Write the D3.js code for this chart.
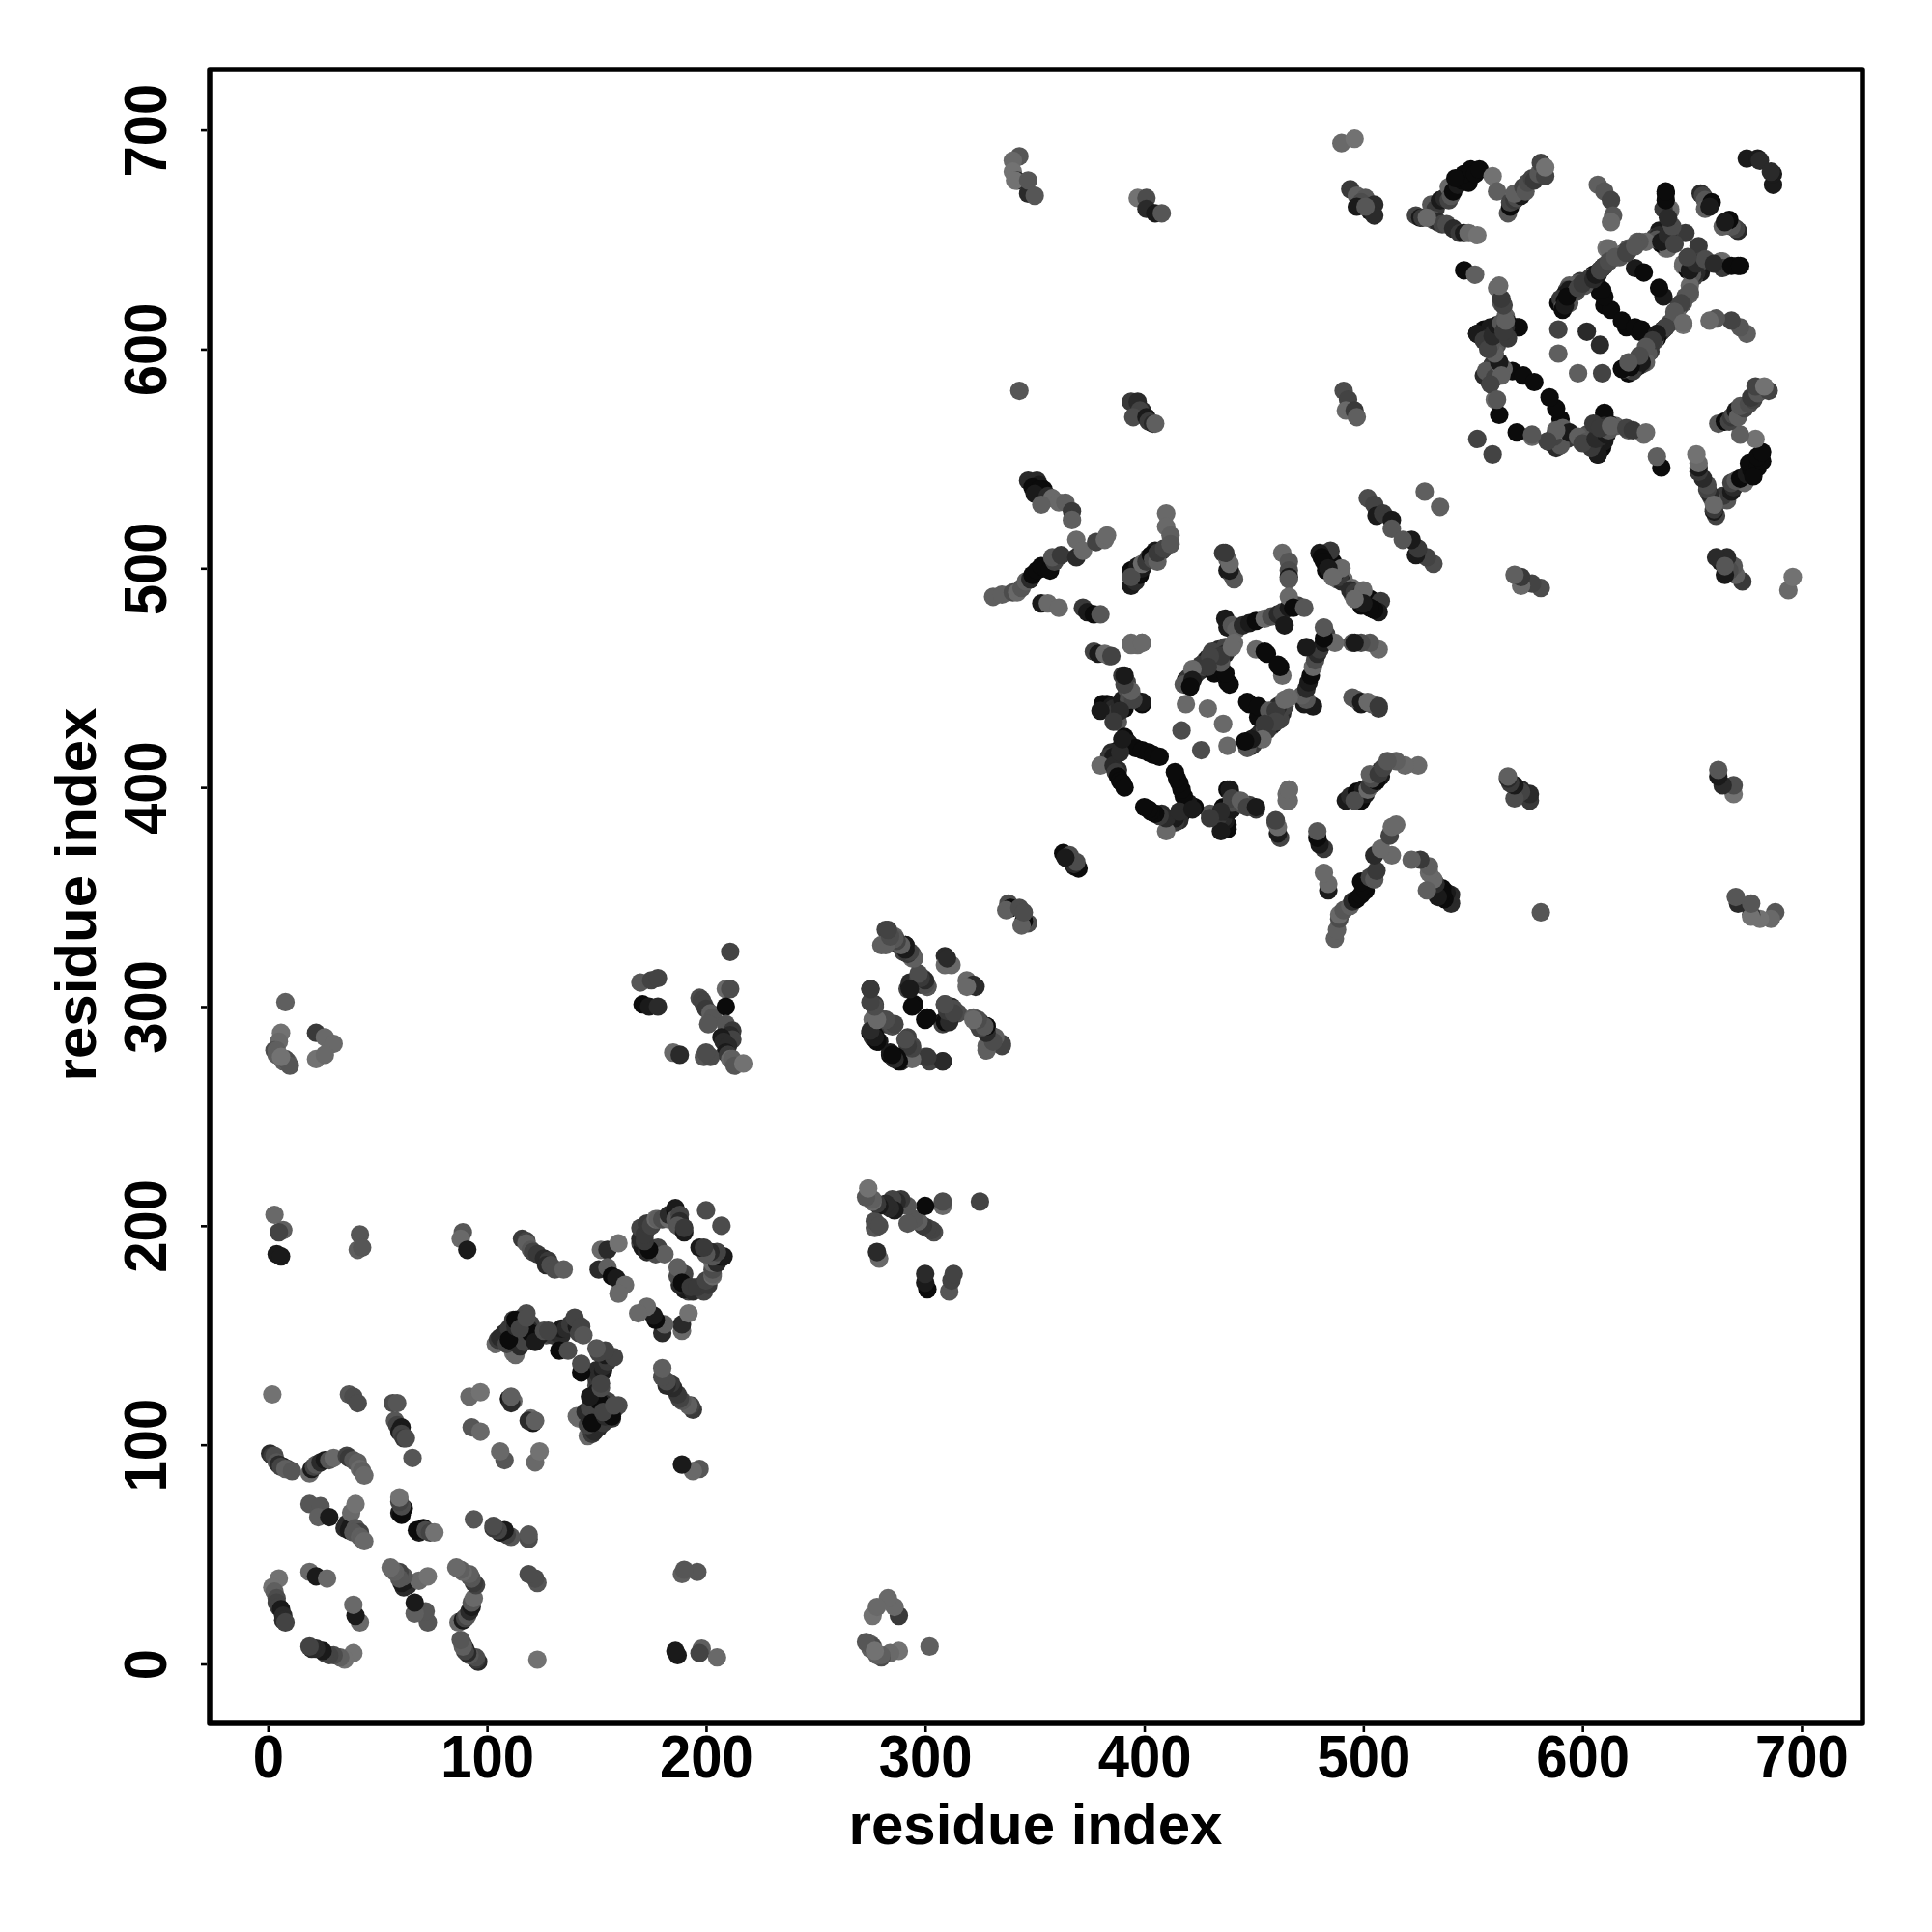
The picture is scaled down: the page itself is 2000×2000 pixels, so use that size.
<!DOCTYPE html>
<html><head><meta charset="utf-8">
<script src="https://cdn.jsdelivr.net/npm/d3@7"></script>
<style>html,body{margin:0;padding:0;background:#fff}svg{display:block}text{font-family:"Liberation Sans",Arial,sans-serif;font-weight:700;fill:#000}</style>
</head><body><svg id="c" width="2000" height="2000"></svg>
<script>
// Contacts between residues: [residue i, residue j, strength 0-9], i < j. The map is symmetric.
const blockN1=[[2,123,0],[37,123,3],[39,122,4],[41,119,4],[57,119,4],[59,119,3],[58,111,3],[59,109,5],[61,108,8],[60,106,8],[61,105,5],[62,103,6],[63,103,4],[66,94,3],
[1,96,7],[2,95,6],[3,95,4],[4,92,3],[5,91,7],[7,90,8],[6,90,5],[9,89,5],[8,89,2],[11,88,3],[19,87,1],[20,89,8],[21,90,5],[22,91,3],[24,92,7],[26,93,8],[28,93,3],[30,94,1],[36,95,5],[37,94,6],[39,93,3],[40,92,3],[41,92,2],[42,89,1],[43,88,2],[44,86,1],
[19,73,3],[24,72,3],[23,67,2],[28,67,8],[35,62,7],[36,64,7],[37,61,8],[38,63,8],[38,69,1],[40,73,0],[40,62,3],[42,60,5],[39,60,3],[42,58,2],[43,57,2],[44,56,1],
[60,69,8],[61,68,9],[62,71,9],[61,72,4],[60,74,5],[60,76,0],
[5,39,0],[2,35,0],[3,33,2],[4,30,4],[4,28,5],[5,26,5],[6,25,8],[7,22,7],[7,20,7],[8,19,5],[19,42,1],[22,40,8],[27,39,1]];
const blockN2=[[89,197,3],[88,194,1],[91,189,8],[116,194,6],[118,193,5],[118,192,2],[120,189,3],[121,188,5],[123,187,6],[126,185,7],[128,184,6],[127,182,7],[129,182,4],[131,180,4],[135,180,2],
[152,189,1],[155,189,7],[160,192,0],[151,180,7],[155,181,2],[157,177,9],[159,176,8],[163,173,1],[160,169,1],
[170,192,5],[171,190,8],[173,188,7],[176,188,5],[177,187,4],[178,190,5],[181,187,2],[174,189,9],[170,194,7],[172,193,6],[171,199,7],[174,200,8],[170,199,5],[172,196,6],[173,201,6],[175,200,5],[177,203,1],[178,203,2],[180,203,4],[183,203,1],[183,205,7],[186,207,9],[186,208,8],[186,203,3],[188,205,5],[188,202,7],[187,200,3],[190,197,8],[190,199,6],[200,207,4]];
const blockN3=[[108,149,3],[104,146,1],[105,148,6],[106,149,7],[108,151,7],[110,153,6],[112,157,6],[114,156,5],[116,158,4],[118,160,4],[120,155,5],[112,142,0],[113,141,1],[119,150,8],[122,148,2],[127,150,4],[122,150,6],[125,151,5],[130,150,6],[134,150,7],[132,151,7],[134,153,8],[136,153,7],[138,155,6],[133,143,9],[137,143,4],[141,154,8],[142,151,5],[140,158,5],[143,154,5],[144,150,3],
[109,146,5],[112,147,8],[115,149,7],[116,152,9],[119,153,7],[124,150,8],[115,145,7],[117,147,5],
[110,148,9],[113,154,7],[113,157,9],[120,151,9],[122,147,8],[126,152,4],[115,153,5],[118,158,4],[128,152,5],
[92,122,1],[97,124,0],[110,121,8],[112,120,1],[111,119,7],[111,122,2],[93,108,3],[97,106,1]];
const blockN4=[[3,205,1],[7,198,2],[5,197,5],[4,187,8],[6,186,8],[42,196,3],[41,189,2],[43,190,3],
[8,302,2],[6,288,0],[5,284,1],[3,280,4],[4,278,2],[4,280,2],[9,275,2],[7,275,2],[8,276,4],[10,273,3],[6,277,0],[22,288,6],[26,286,1],[30,283,1],[22,276,0],[26,278,1],
[170,311,3],[175,312,5],[178,313,5],[171,301,9],[174,300,8],[178,300,7],[211,325,5],[209,308,1],[211,308,4],[197,304,4],[198,303,5],[199,301,5],[200,299,6],[202,297,2],[203,295,3],[201,292,3],[209,300,9],[209,292,3],[212,289,6],[211,287,7],[212,285,5],[207,286,8],[208,284,7],[210,282,7],[209,279,8],[199,277,3],[202,277,4],[200,279,4],[185,279,1],[188,278,7],[210,278,6],[211,276,1],[212,276,2],[213,273,3],[217,274,0]];
const blockN5=[[282,335,5],[280,328,2],[286,332,2],[284,331,4],[288,328,7],[291,328,9],[290,325,5],[291,327,3],[294,324,4],[294,322,1],[309,323,7],[309,319,1],[319,312,1],[322,310,7],
[275,308,7],[277,301,6],[276,294,1],[281,294,5],[282,292,6],[285,291,4],[275,288,9],[277,287,9],[276,286,7],[279,284,8],[278,285,9],[292,286,5],[294,282,4],[284,278,9],[286,277,8],[289,275,7],[294,278,1],[300,277,4],[302,275,5],[308,275,6],
[292,308,5],[293,309,9],[293,311,7],[298,310,6],[299,313,4],[297,313,5],[301,309,4],[295,301,9],[300,294,9],[309,301,3],[310,300,4],[312,300,7],[313,298,6],[315,297,4],[308,293,8],[322,295,2],[324,292,6],[325,293,5],[326,291,8],[328,291,8],[328,289,2],[330,287,5],[331,286,3],[328,282,2],[332,284,4],[335,283,5],
[338,347,4],[339,345,9],[337,344,2],[363,370,9],[365,368,7],[366,369,4],[368,364,8]];
const blockN6=[[343,688,3],[340,686,1],[340,681,0],[342,677,7],[341,677,0],[347,671,7],[347,677,3],[350,670,3],[397,669,0],[401,669,4],[401,664,7],[405,662,8],[408,662,3],[343,581,3],
[394,576,6],[397,576,7],[399,572,7],[398,572,5],[395,569,4],[401,569,8],[402,567,6],[404,566,7],[405,566,2],[343,345,4]];
const blockN7=[[490,694,1],[496,696,0],[494,673,6],[497,670,2],[501,669,3],[499,667,4],[497,665,8],[503,663,8],[505,666,7],[505,661,7],[501,665,3],[491,581,4],[493,577,5],[492,572,1],[496,572,6],[497,569,2]];
const blockN8=[[524,661,5],[526,660,8],[527,660,6],[531,666,3],[533,664,6],[535,668,8],[537,669,7],[539,674,1],[539,668,5],[540,670,3],[541,672,9],[543,675,8],[545,677,9],[548,676,9],[546,680,9],[542,678,9],[549,682,9],[551,680,9],[553,682,9],[532,659,4],[534,658,7],[536,657,5],[538,657,4],[541,655,7],[544,653,6],[546,653,8],[529,660,1],[548,653,1],[552,652,0],[559,679,0],[561,672,2],
[566,662,3],[567,665,9],[567,667,5],[569,668,6],[570,669,4],[572,670,8],[569,671,2],[573,674,5],[574,672,3],[575,676,4],[577,678,5],[578,677,6],[580,680,3],[581,685,5],[583,679,5],[583,683,0]];
const blockN9=[[546,636,9],[551,634,2],[561,628,1],[563,621,3],[565,615,2],[566,612,9],[570,610,9],[552,607,9],[553,607,8],[555,609,9],[556,605,5],[557,604,7],[558,607,5],[558,610,8],[560,608,7],[560,604,6],[561,602,4],[560,601,3],[562,592,6],[557,586,6],[555,588,7],[557,590,8],[559,593,6],[560,590,4],[556,590,3],[560,587,5],[563,592,0],[568,590,9],[573,588,9],[578,585,9],[560,577,1],[562,570,9],[552,559,5],
[564,591,2],[562,594,8],[563,588,2],[558,584,5],[561,577,3],[560,598,2],[558,602,3],[552,607,8],[557,605,7],[555,604,6],[557,600,5],[559,606,7],[571,610,9],[561,611,8],[563,612,3],[565,610,7],[566,605,6],[564,608,6],[565,613,2],[564,620,5],[563,623,6],[562,629,1]];
const blockN10=[[607,675,2],[610,672,3],[613,668,5],[614,661,3],[613,658,1],[638,671,9],[640,664,0],[640,657,3],[647,653,6],[638,646,0],[635,654,8],[633,651,5],[637,652,9],[635,652,7],[636,648,9],[634,650,3],[640,654,5],[625,649,2],[629,649,1],[621,646,3],[619,644,5],[617,643,1],[615,642,3],[611,646,0],[613,643,2],[610,638,7],[609,637,8],[608,636,4],[607,635,7],[605,634,9],[604,633,3],[603,632,5],[601,630,8],[599,631,6],[598,630,3],[595,628,4],[594,629,2],[593,627,5],[592,625,8],[589,621,9],[590,623,6],[591,619,3],
[589,609,5],[602,608,7],[589,598,2],[624,637,8],[628,635,9],[608,626,9],[610,620,9],[613,618,9],[610,624,9],[609,627,9],
[639,646,1],[636,649,8],[639,652,7],[641,656,4],[642,648,5],[640,663,1],[637,664,6],[639,660,7],[638,668,9],[638,672,9],[626,649,3],[621,645,5],[617,642,3],[612,646,1],[610,638,5],[607,634,8],[604,632,6],[601,629,3],[594,627,8],[592,622,9],[591,618,9],[597,626,4],[594,621,3],
[620,592,8],[624,593,9],[628,598,5],[630,600,6],[632,605,7],[634,606,8],[636,608,5],[640,612,4],[642,615,3],[644,620,5],[647,624,3],
[654,671,7],[655,670,5],[656,668,3],[659,667,9],[656,664,2],[658,665,8],[675,687,8],[680,687,8],[681,686,7]];
const blockN11=[[502,532,4],[505,529,5],[506,524,8],[509,525,6],[513,522,8],[513,518,3],[528,535,2],[488,495,1],[491,495,1],[490,494,7],[489,496,6],[487,498,8],[488,499,8],[485,502,7],[486,503,9],[490,500,1],[485,508,6],
[436,507,6],[438,504,2],[438,499,8],[440,497,3],[463,507,1],[466,503,3],[466,499,4],[466,496,8],[480,507,8],[481,505,9],[482,503,9],[483,499,9],[484,500,8],[486,496,1],
[495,466,3]];
const blockN12=[[437,477,8],[438,473,8],[440,474,3],[442,472,2],[445,474,7],[448,475,8],[451,476,9],[455,477,1],[458,478,4],[461,479,7],[463,480,6],[466,482,8],[470,483,5],[466,487,1],[468,482,9],[464,474,8],[473,482,3],[451,463,1],[455,462,9],[456,461,9],
[419,449,8],[420,450,6],[418,447,3],[423,451,9],[425,453,7],[427,455,5],[428,458,3],[430,457,8],[431,456,8],[432,460,6],[433,461,9],[434,463,7],[436,462,4],[437,464,5],[441,466,1],[435,455,9],[434,455,7],[431,462,5],[429,459,8],[426,456,6],[437,461,7],[432,452,9],[438,448,9],[439,447,9],[437,452,9],[435,457,3],[435,460,6],[440,464,1],[430,460,5],[429,455,6],[422,454,1],[422,449,8],[421,446,9],
[419,438,1],[429,436,1],[417,426,4],
[390,451,6],[392,448,5],[381,438,9],[383,438,9],[385,437,8],[386,436,7],[387,434,6],[388,430,3],[389,437,7],[390,440,8],[391,436,9],[393,440,4],[399,438,9],[396,440,3],[399,439,8],[395,440,5],[389,435,7],[380,435,8],[386,430,6],[392,445,4],[394,444,2],[391,447,5],[391,451,8],
[397,465,1],[394,466,1],[399,466,1],[384,460,4],[377,462,5],[379,461,8],[382,461,1],[385,460,5]];
const blockN13=[[391,423,9],[392,421,9],[391,419,9],[388,417,9],[385,416,7],[384,414,6],[386,414,8],[380,410,1],[386,410,7],[388,408,7],[387,407,6],[388,405,9],[389,403,9],[390,402,9],[391,400,9],[393,420,8],[396,418,9],[399,417,9],[402,416,9],[404,415,9],[407,414,9],[389,416,7],[390,422,8]];
const blockN14=[[347,540,7],[351,540,7],[352,538,8],[349,537,9],[354,536,9],[352,536,9],[350,534,8],[356,533,7],[358,532,1],[361,530,1],[353,529,2],[364,530,2],[367,526,6],[367,522,2],
[331,487,2],[335,488,2],[340,489,4],[342,489,1],[344,491,3],[346,494,2],[348,495,7],[349,497,9],[351,499,9],[353,501,9],[355,500,9],[357,499,9],[359,503,5],[358,505,3],[362,506,6],
[353,484,8],[356,484,1],[361,482,1],[372,482,6],[374,480,8],[377,479,9],[380,479,3],
[369,505,7],[369,513,1],[372,508,1],[378,512,5],[382,513,1],[383,515,1],
[405,508,8],[408,508,7],[402,505,5],[394,499,9],[394,492,8],[396,494,7],[398,497,9],[396,500,9],[399,500,8],[397,501,8],[394,496,4],[399,502,1],[401,503,6],[403,506,9],[404,504,4],[406,503,2],[406,507,6],[409,509,5],[410,525,1],[410,519,1],[412,515,2],[412,511,3],
[394,465,1],[399,466,1],[495,441,3],[499,439,8],[502,439,1],[507,437,6]];
const tickValues=[0,100,200,300,400,500,600,700];
const axisTitle="residue index";

const blocks=[blockN1,blockN2,blockN3,blockN4,blockN5,blockN6,blockN7,blockN8,blockN9,blockN10,blockN11,blockN12,blockN13,blockN14];
const frame={l:217,r:1928,t:72,b:1784};
const x=d3.scaleLinear().domain([-26.6,727.8]).range([frame.l,frame.r]);
const y=d3.scaleLinear().domain([-27.1,727.6]).range([frame.b,frame.t]);
const shade=d3.scaleLinear().domain([0,3,6,9]).range(["#727272","#565656","#393939","#0b0b0b"]);
const svg=d3.select("#c");
const pts=[];
blocks.forEach(b=>{b.forEach(d=>pts.push({a:d[0],b:d[1],w:d[2]}));b.forEach(d=>pts.push({a:d[1],b:d[0],w:d[2]}));});
svg.append("g").selectAll("circle").data(pts).join("circle")
 .attr("cx",d=>x(d.a)).attr("cy",d=>y(d.b)).attr("r",9.6).attr("fill",d=>shade(d.w));
svg.append("rect").attr("x",frame.l).attr("y",frame.t).attr("width",frame.r-frame.l).attr("height",frame.b-frame.t)
 .attr("fill","none").attr("stroke","#000").attr("stroke-width",5.5).attr("stroke-linejoin","round");
const gx=svg.append("g").attr("transform",`translate(0,${frame.b+3})`).call(d3.axisBottom(x).tickValues(tickValues).tickSize(6).tickPadding(0));
gx.select(".domain").remove();
gx.selectAll("line").attr("stroke","#000").attr("stroke-width",2.6);
gx.selectAll("text").attr("font-size",58).attr("y",0).attr("dy",0).attr("transform","translate(0,53) scale(1,1.1)");
const gy=svg.append("g").attr("transform",`translate(${frame.l-3},0)`).call(d3.axisLeft(y).tickValues(tickValues).tickSize(6).tickPadding(0));
gy.select(".domain").remove();
gy.selectAll("line").attr("stroke","#000").attr("stroke-width",2.6);
gy.selectAll("text").attr("font-size",58).attr("x",0).attr("dy",0).attr("text-anchor","middle").attr("transform","translate(-42,0) rotate(-90) scale(1,1.1)");
svg.append("text").attr("x",1072).attr("y",1909).attr("text-anchor","middle").attr("font-size",60).text(axisTitle);
svg.append("text").attr("transform","translate(99,926) rotate(-90)").attr("text-anchor","middle").attr("font-size",60).text(axisTitle);
</script></body></html>
